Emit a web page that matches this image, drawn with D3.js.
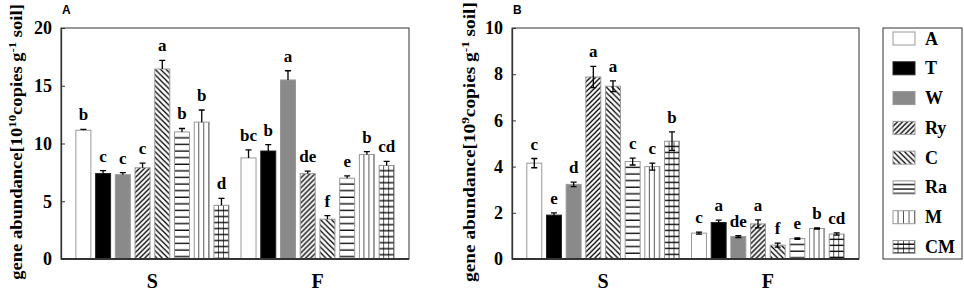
<!DOCTYPE html>
<html lang="en">
    <head>
        <meta charset="utf-8"/>
        <script src="https://d3js.org/d3.v7.min.js"></script>
        <style>
            body { margin: 0; background: #fff; }
            text { font-family: "Liberation Serif", "Times New Roman", serif; font-weight: bold; }
        </style>
    </head>
    <body>
        <div id="chart"></div>
    </body>
    <script>
        var treatments = ["A", "T", "W", "Ry", "C", "Ra", "M", "CM"];
        var groups = ["S", "F"];

        // panel A, 10^10 copies
        var aTicks = [0, 5, 10, 15, 20];
        var aS = [11.15, 7.4, 7.3, 7.9, 16.45, 11.0, 11.85, 4.65];
        var aSErr = [0.08, 0.25, 0.18, 0.4, 0.75, 0.3, 1.05, 0.6];
        var aSLetters = ["b", "c", "c", "c", "a", "b", "b", "d"];
        var aF = [8.75, 9.35, 15.5, 7.4, 3.45, 7.0, 9.05, 8.1];
        var aFErr = [0.7, 0.55, 0.8, 0.2, 0.3, 0.2, 0.25, 0.35];
        var aFLetters = ["bc", "b", "a", "de", "f", "e", "b", "cd"];

        // panel B, 10^9 copies
        var bTicks = [0, 2, 4, 6, 8, 10];
        var bS = [4.15, 1.9, 3.23, 7.88, 7.48, 4.22, 4.0, 5.1];
        var bSErr = [0.2, 0.1, 0.1, 0.46, 0.23, 0.15, 0.15, 0.4];
        var bSLetters = ["c", "e", "d", "a", "a", "c", "c", "b"];
        var bF = [1.12, 1.58, 0.97, 1.52, 0.6, 0.88, 1.32, 1.08];
        var bFErr = [0.04, 0.1, 0.04, 0.17, 0.09, 0.03, 0.03, 0.05];
        var bFLetters = ["c", "a", "de", "a", "f", "e", "b", "cd"];

        var W = 964, H = 291;
        var top_ = 28, base = 259;

        var svg = d3.select("#chart")
            .append("svg")
                .attr("width", W)
                .attr("height", H);
        var defs = svg.append("defs");
        var pid = 0;

        // one pattern per rect so that the lines line up with the rect edges
        function fillFor(key, x, y, w) {
            if (key === "A") return "#fff";
            if (key === "T") return "#000";
            if (key === "W") return "#8a8a8a";
            var id = "p" + (pid++);
            var p = defs.append("pattern")
                .attr("id", id)
                .attr("patternUnits", "userSpaceOnUse")
                .attr("x", x).attr("y", y);
            var s;
            if (key === "Ry" || key === "C") {
                s = key === "Ry" ? 5 : 5.5;
                p.attr("width", s).attr("height", s);
                p.append("rect").attr("width", s).attr("height", s).attr("fill", "#fff");
                var d = key === "Ry"
                    ? "M0," + s + "L" + s + ",0M-1,1L1,-1M" + (s - 1) + "," + (s + 1) + "L" + (s + 1) + "," + (s - 1)
                    : "M0,0L" + s + "," + s + "M-1," + (s - 1) + "L1," + (s + 1) + "M" + (s - 1) + ",-1L" + (s + 1) + ",1";
                p.append("path").attr("d", d).attr("stroke", "#000").attr("stroke-width", 1.3);
            } else if (key === "Ra") {
                s = w > 20 ? 4.4 : 6.6;
                p.attr("width", 10).attr("height", s);
                p.append("rect").attr("width", 10).attr("height", s).attr("fill", "#fff");
                p.append("line").attr("x1", 0).attr("x2", 10).attr("y1", s - 0.7).attr("y2", s - 0.7)
                    .attr("stroke", "#000").attr("stroke-width", 1.3);
            } else {
                var n = w > 20 ? 4 : 3;
                var tw = w / n;
                var th = key === "CM" ? (w > 20 ? 4.4 : 6) : 10;
                p.attr("width", tw).attr("height", th);
                p.append("rect").attr("width", tw).attr("height", th).attr("fill", "#fff");
                p.append("line").attr("x1", tw).attr("x2", tw).attr("y1", 0).attr("y2", th)
                    .attr("stroke", "#000").attr("stroke-width", 1.3);
                if (key === "CM") {
                    p.append("line").attr("x1", 0).attr("x2", tw).attr("y1", th - 0.7).attr("y2", th - 0.7)
                        .attr("stroke", "#000").attr("stroke-width", 1.3);
                }
            }
            return "url(#" + id + ")";
        }

        function panel(cfg) {
            var g = svg.append("g");

            var x = d3.scaleBand()
                .domain(groups)
                .range([cfg.left, cfg.right])
                .paddingInner(0.073)
                .paddingOuter(0.09);
            var xi = d3.scaleBand()
                .domain(treatments)
                .range([0, x.bandwidth()])
                .paddingInner(0.24)
                .paddingOuter(0);
            var y = d3.scaleLinear()
                .domain([0, cfg.max])
                .range([base, top_]);

            var rows = [];
            groups.forEach(function (grp, gi) {
                var vals = cfg.values[gi], errs = cfg.errs[gi], lets = cfg.letters[gi];
                treatments.forEach(function (t, i) {
                    rows.push({ group: grp, key: t, v: vals[i], e: errs[i], l: lets[i] });
                });
            });

            // frame
            g.append("rect")
                .attr("x", cfg.left).attr("y", top_)
                .attr("width", cfg.right - cfg.left).attr("height", base - top_)
                .attr("fill", "none").attr("stroke", "#333").attr("stroke-width", 1);

            var bars = g.selectAll(".bar")
                .data(rows)
                .enter()
                .append("g");

            bars.append("rect")
                .attr("x", function (d) { return x(d.group) + xi(d.key); })
                .attr("y", function (d) { return y(d.v); })
                .attr("width", xi.bandwidth())
                .attr("height", function (d) { return base - y(d.v); })
                .attr("fill", function (d) { return fillFor(d.key, x(d.group) + xi(d.key), y(d.v), xi.bandwidth()); })
                .attr("stroke", function (d) { return d.key === "T" ? "#222" : "#999"; })
                .attr("stroke-width", 1);

            var cap = 3;
            bars.append("path")
                .attr("d", function (d) {
                    var cx = x(d.group) + xi(d.key) + xi.bandwidth() / 2;
                    var y1 = y(d.v + d.e), y0 = cfg.both ? y(d.v - d.e) : y(d.v);
                    var p = "M" + cx + "," + y0 + "V" + y1 + "M" + (cx - cap) + "," + y1 + "H" + (cx + cap);
                    if (cfg.both) p += "M" + (cx - cap) + "," + y0 + "H" + (cx + cap);
                    return p;
                })
                .attr("fill", "none")
                .attr("stroke", "#000")
                .attr("stroke-width", 1.3);

            bars.append("text")
                .attr("x", function (d) { return x(d.group) + xi(d.key) + xi.bandwidth() / 2; })
                .attr("y", function (d) { return y(d.v + d.e) - 9; })
                .attr("text-anchor", "middle")
                .style("font-size", "17px")
                .text(function (d) { return d.l; });

            // y axis, ticks pointing inward
            var ya = g.append("g")
                .attr("transform", "translate(" + cfg.left + ",0)")
                .call(d3.axisLeft(y).tickValues(cfg.ticks).tickSizeInner(-4).tickSizeOuter(0).tickPadding(9));
            ya.select(".domain").attr("stroke", "#333").attr("stroke-width", 1.3);
            ya.selectAll(".tick line").attr("stroke", "#333");
            ya.selectAll("text")
                .attr("fill", "#000")
                .style("font-family", "'Liberation Serif', serif")
                .style("font-weight", "bold")
                .style("font-size", "18px");

            // baseline
            g.append("line")
                .attr("x1", cfg.left).attr("x2", cfg.right)
                .attr("y1", base).attr("y2", base)
                .attr("stroke", "#333").attr("stroke-width", 2);

            g.selectAll(".glab")
                .data(groups)
                .enter()
                .append("text")
                    .attr("x", function (d) { return x(d) + x.bandwidth() / 2; })
                    .attr("y", 288)
                    .attr("text-anchor", "middle")
                    .style("font-size", "20px")
                    .text(function (d) { return d; });

            var lab = g.append("text")
                .attr("text-anchor", "middle")
                .style("font-size", "16px");
            lab.append("tspan").text("gene abundance[10");
            lab.append("tspan").attr("dy", -6).style("font-size", "11px").text(cfg.exp);
            lab.append("tspan").attr("dy", 6).text("copies g");
            lab.append("tspan").attr("dy", -6).style("font-size", "11px").text("-1");
            lab.append("tspan").attr("dy", 6).text(" soil]");
            // stretch along its length to fill the panel height like the original
            var len = lab.node().getBBox().width;
            lab.attr("transform", "translate(" + cfg.labelX + ",142)rotate(-90)scale(" + (cfg.labelLen / len) + ",1)");

            g.append("text")
                .attr("x", cfg.left + 1)
                .attr("y", 14)
                .style("font-family", "'Liberation Sans', Arial, sans-serif")
                .style("font-size", "12px")
                .text(cfg.name);
        }

        panel({ name: "A", left: 61, right: 409, max: 20, ticks: aTicks, exp: "10", labelX: 22, labelLen: 276,
                values: [aS, aF], errs: [aSErr, aFErr], letters: [aSLetters, aFLetters], both: false });
        panel({ name: "B", left: 512, right: 859, max: 10, ticks: bTicks, exp: "9", labelX: 475, labelLen: 280,
                values: [bS, bF], errs: [bSErr, bFErr], letters: [bSLetters, bFLetters], both: true });

        // legend
        var lg = svg.append("g");
        lg.append("rect")
            .attr("x", 883).attr("y", 28).attr("width", 79).attr("height", 231)
            .attr("fill", "#fff").attr("stroke", "#333").attr("stroke-width", 1);
        var ly = d3.scalePoint().domain(treatments).range([38.5, 247]);
        var items = lg.selectAll(".item")
            .data(treatments)
            .enter()
            .append("g");
        items.append("rect")
            .attr("x", 893)
            .attr("y", function (d) { return ly(d) - 6.5; })
            .attr("width", 22)
            .attr("height", 13)
            .attr("fill", function (d) { return fillFor(d, 893, ly(d) - 6.5, 22); })
            .attr("stroke", function (d) { return d === "T" ? "#222" : "#999"; });
        items.append("text")
            .attr("x", 925)
            .attr("y", function (d) { return ly(d) + 6; })
            .style("font-size", "18px")
            .text(function (d) { return d; });
    </script>
</html>
